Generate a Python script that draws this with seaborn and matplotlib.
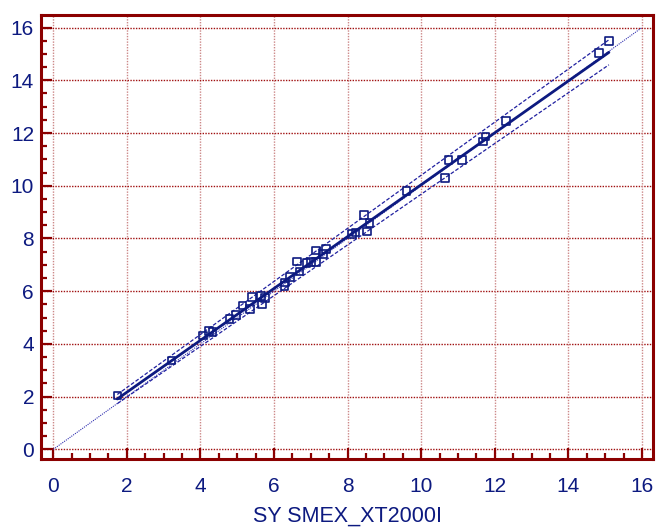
import numpy as np
import pandas as pd
import matplotlib
matplotlib.use("Agg")
import matplotlib.pyplot as plt
import seaborn as sns
from matplotlib.ticker import MultipleLocator

# 数据
x_vals = [1.74, 3.21, 4.07, 4.23, 4.33, 4.79, 4.97, 5.14, 5.35, 5.40,
          5.65, 5.67, 5.76, 6.28, 6.29, 6.44, 6.62, 6.69, 6.88, 7.01,
          7.14, 7.14, 7.33, 7.41, 8.11, 8.21, 8.45, 8.52, 8.59, 9.60,
          10.64, 10.74, 11.10, 11.68, 11.75, 12.30, 14.83, 15.10]
y_vals = [2.05, 3.37, 4.32, 4.48, 4.46, 4.95, 5.09, 5.45, 5.33, 5.77,
          5.82, 5.49, 5.73, 6.19, 6.33, 6.53, 7.12, 6.75, 7.06, 7.11,
          7.10, 7.54, 7.41, 7.60, 8.17, 8.23, 8.89, 8.27, 8.59, 9.80,
          10.29, 10.97, 10.97, 11.68, 11.86, 12.46, 15.04, 15.48]

# 回归线及置信区间（截距, 斜率）
fit_line = (0.20, 0.984)
upper_line = (0.33, 1.007)
lower_line = (0.06, 0.962)
identity_range = [0, 16]

x_label = "SY SMEX_XT2000I"

sns.set_style("white")
plt.rcParams['font.family'] = ['Liberation Sans', 'DejaVu Sans']

navy = "#0d1a80"
maroon = "#8b0000"

df = pd.DataFrame({"x": x_vals, "y": y_vals})
xr = np.array([min(x_vals), max(x_vals)])
lines = pd.DataFrame({
    "x": np.concatenate([xr, xr, xr]),
    "y": np.concatenate([fit_line[0] + fit_line[1] * xr,
                         upper_line[0] + upper_line[1] * xr,
                         lower_line[0] + lower_line[1] * xr]),
    "kind": ["fit"] * 2 + ["upper"] * 2 + ["lower"] * 2,
})

fig = plt.figure(figsize=(6.57, 5.32), dpi=100)
ax = fig.add_axes([0.0624, 0.137, 0.9316, 0.835])

# 网格
for v in range(0, 17, 2):
    ax.axvline(v, color="#cc8888", lw=1.0, ls=(0, (1, 1)), zorder=0)
    ax.axhline(v, color="#a01010", lw=1.0, ls=(0, (1, 1)), zorder=0)

# 恒等线
ax.plot(identity_range, identity_range, color="#3030b0", lw=0.8,
        ls=(0, (1, 1)), zorder=1)

sns.lineplot(data=lines[lines.kind == "fit"], x="x", y="y", color=navy,
             lw=2.0, ax=ax, zorder=2)
for k in ["upper", "lower"]:
    sns.lineplot(data=lines[lines.kind == k], x="x", y="y", color="#2020a0",
                 lw=0.9, ls=(0, (3, 1.5)), ax=ax, zorder=2)

sns.scatterplot(data=df, x="x", y="y", marker="s", s=30,
                facecolors="none", edgecolors=navy, linewidths=1.2,
                ax=ax, zorder=3)

ax.set_xlim(-0.334, 16.3)
ax.set_ylim(-0.37, 16.48)
ax.xaxis.set_major_locator(MultipleLocator(2))
ax.xaxis.set_minor_locator(MultipleLocator(0.5))
ax.yaxis.set_major_locator(MultipleLocator(2))
ax.yaxis.set_minor_locator(MultipleLocator(0.5))

for s in ax.spines.values():
    s.set_color(maroon)
    s.set_linewidth(2.2)

ax.tick_params(axis="both", which="both", bottom=True, left=True,
               top=False, right=False)
ax.tick_params(axis="both", which="major", direction="in", length=8,
               width=1.6, color=maroon, labelsize=15, labelcolor=navy)
ax.tick_params(axis="both", which="minor", direction="in", length=4,
               width=1.6, color=maroon)
ax.tick_params(axis="x", which="major", pad=13)
ax.tick_params(axis="y", which="major", pad=5)

ax.set_xlabel(x_label, fontsize=15.5, color=navy, labelpad=7)
ax.set_ylabel("")

fig.savefig("out.png", dpi=100)
